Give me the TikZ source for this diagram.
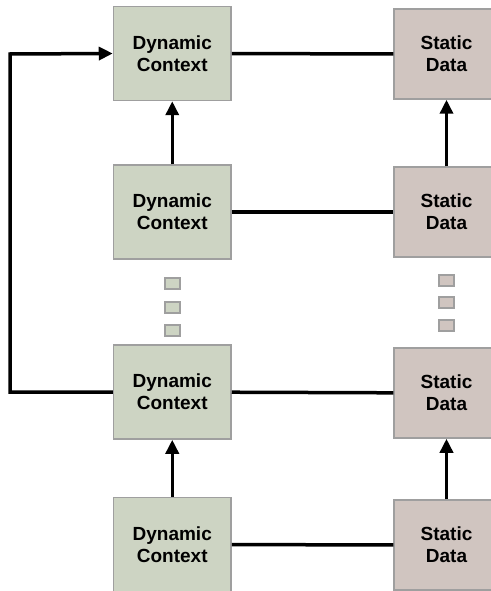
\documentclass[tikz,border=0pt]{standalone}
\usepackage{fontspec}
\setmainfont{Liberation Sans}
\usetikzlibrary{positioning,arrows.meta}

\definecolor{dynfill}{HTML}{CDD4C3}
\definecolor{statfill}{HTML}{D0C5C0}
\definecolor{boxline}{HTML}{9F9F9F}

\tikzset{
  box/.style={draw=boxline,line width=1.5pt,align=center,inner sep=0pt,
    font=\bfseries\fontsize{19}{22}\selectfont},
  dyn/.style={box,fill=dynfill,minimum width=117.5pt,minimum height=94pt},
  stat/.style={box,fill=statfill,minimum width=105pt,minimum height=90pt},
  dyndot/.style={draw=boxline,line width=2pt,fill=dynfill,minimum width=15pt,minimum height=11pt,inner sep=0pt},
  statdot/.style={dyndot,fill=statfill}
}

\begin{document}
\begin{tikzpicture}[x=1pt,y=1pt,on grid,line width=3.5pt,>={Triangle[length=14pt,width=13pt]}]
   \useasboundingbox (0,0) rectangle (490,-591);
   % left column
   \node[dyn] (d1) at (172.25,-53.5) {Dynamic\\Context};
   \node[dyn] (d2) [below=158.5pt of d1] {Dynamic\\Context};
   \node[dyn] (d3) [below=180pt of d2] {Dynamic\\Context};
   \node[dyn] (d4) [below=152.5pt of d3] {Dynamic\\Context};
   % right column
   \node[stat] (s1) at (446.5,-54) {Static\\Data};
   \node[stat] (s2) [below=158pt of s1] {Static\\Data};
   \node[stat] (s3) [below=181pt of s2] {Static\\Data};
   \node[stat] (s4) [below=152pt of s3] {Static\\Data};
   % dots between the rows
   \node[dyndot] (dd1) [below=71.5pt of d2] {};
   \node[dyndot] (dd2) [below=23.5pt of dd1] {};
   \node[dyndot] (dd3) [below=23.5pt of dd2] {};
   \node[statdot] (sd1) [below=68pt of s2] {};
   \node[statdot] (sd2) [below=22pt of sd1] {};
   \node[statdot] (sd3) [below=23.5pt of sd2] {};
   \coordinate (loop) at (10,-54);
    \path[->]
    (d2) edge (d1)
    (d4) edge (d3)
    (s2) edge (s1)
    (s4) edge (s3);
    \path
    (d1) edge (s1)
    (d2) edge (s2)
    (d3) edge (s3)
    (d4) edge (s4);
   \draw[->] (d3.west) -| (loop) -- (d1.west);
\end{tikzpicture}
\end{document}
